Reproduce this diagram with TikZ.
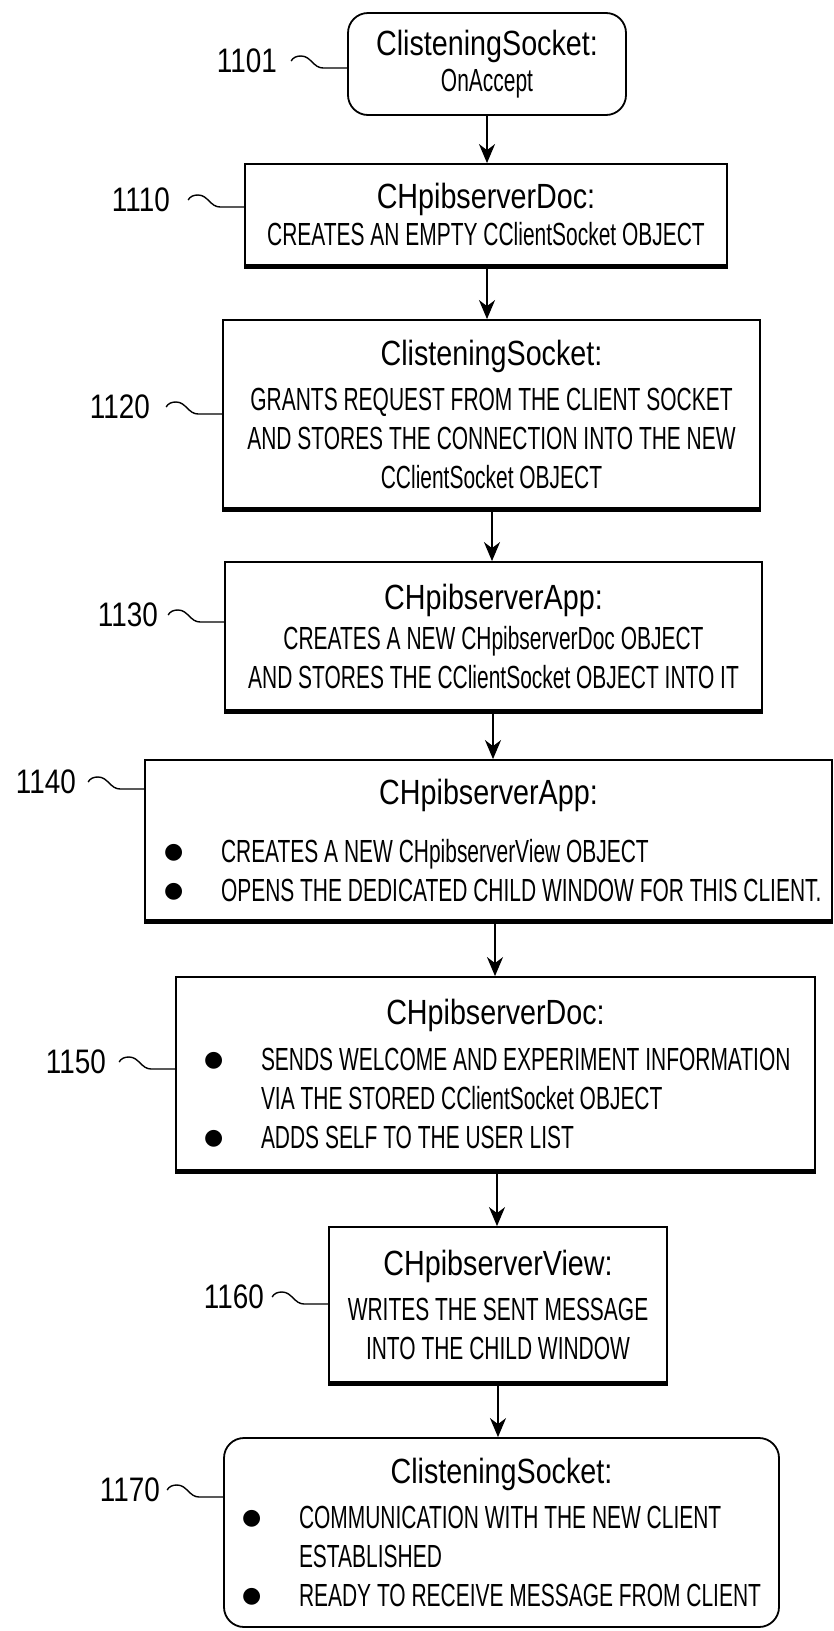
\documentclass[tikz,border=0pt]{standalone}
\usepackage{fontspec}
\setmainfont{Liberation Sans}[FakeStretch=0.655]
\newfontfamily\headfont{Liberation Sans}[FakeStretch=0.82]
\newfontfamily\dotfont{DejaVu Sans}
\usetikzlibrary{arrows.meta}

\newcommand\bodyfs{\fontsize{32}{39}\selectfont}
\newcommand\headfs{\headfont\fontsize{35}{39}\selectfont}
\newcommand\bitem[1]{\mbox{\makebox[57pt][l]{\raisebox{4pt}{\dotfont\fontsize{22}{22}\selectfont ●}}#1}}
\newcommand\bcont[1]{\mbox{\hspace*{57pt}#1}}

\tikzset{
  box/.style={draw, line width=1.8pt, inner sep=0pt, align=center, font=\bodyfs},
  rbox/.style={box, rounded corners=20pt},
  lbl/.style={anchor=east, inner sep=0pt, font=\headfont\fontsize{34}{34}\selectfont},
  lead/.style={line width=1.4pt},
  arr/.style={line width=1.8pt, -{Stealth[length=19pt,width=16pt,inset=6pt]}}
}

\begin{document}
\begin{tikzpicture}[x=1pt,y=-1pt]
  \useasboundingbox (0,0) rectangle (834,1631);

  % steps
  \node[rbox, minimum width=278, minimum height=102] (b1101) at (487,64)
    {{\headfs ClisteningSocket:}\\[-3pt] OnAccept};
  \node[box, minimum width=482, minimum height=101] (b1110) at (486,214.5)
    {{\headfs CHpibserverDoc:}\\[-2pt] CREATES AN EMPTY CClientSocket OBJECT};
  \node[box, minimum width=537, minimum height=188] (b1120) at (491.5,414)
    {{\headfs ClisteningSocket:}\\[6pt] GRANTS REQUEST FROM THE CLIENT SOCKET\\
     AND STORES THE CONNECTION INTO THE NEW\\ CClientSocket OBJECT};
  \node[box, minimum width=537, minimum height=148] (b1130) at (493.5,636)
    {{\headfs CHpibserverApp:}\\[1pt] CREATES A NEW CHpibserverDoc OBJECT\\
     AND STORES THE CClientSocket OBJECT INTO IT};
  \node[box, minimum width=687, minimum height=160] (b1140) at (488.5,840)
    {\parbox{649pt}{\makebox[\linewidth]{\headfs CHpibserverApp:}\\[19pt]
     \bitem{CREATES A NEW CHpibserverView OBJECT}\\
     \bitem{OPENS THE DEDICATED CHILD WINDOW FOR THIS CLIENT.}}};
  \node[box, minimum width=639, minimum height=193] (b1150) at (495.5,1073.5)
    {\parbox{583pt}{\makebox[\linewidth]{\headfs CHpibserverDoc:}\\[7pt]
     \bitem{SENDS WELCOME AND EXPERIMENT INFORMATION}\\
     \bcont{VIA THE STORED CClientSocket OBJECT}\\
     \bitem{ADDS SELF TO THE USER LIST}}};
  \node[box, minimum width=338, minimum height=155] (b1160) at (498,1304.5)
    {{\headfs CHpibserverView:}\\[6pt] WRITES THE SENT MESSAGE\\ INTO THE CHILD WINDOW};
  \node[rbox, minimum width=555, minimum height=189] (b1170) at (501.5,1532.5)
    {\parbox{519pt}{\makebox[\linewidth]{\headfs ClisteningSocket:}\\[6pt]
     \bitem{COMMUNICATION WITH THE NEW CLIENT}\\
     \bcont{ESTABLISHED}\\
     \bitem{READY TO RECEIVE MESSAGE FROM CLIENT}}};

  % heavy lower edges
  \foreach \b in {b1110,b1120,b1130,b1140,b1150,b1160}
    \draw[line width=3.5pt] ([yshift=-1pt]\b.south west) -- ([yshift=-1pt]\b.south east);

  % reference numerals
  \node[lbl] (l1101) at (277,61) {1101};
  \node[lbl] (l1110) at (170,200) {1110};
  \node[lbl] (l1120) at (150,407) {1120};
  \node[lbl] (l1130) at (158,615) {1130};
  \node[lbl] (l1140) at (76,782) {1140};
  \node[lbl] (l1150) at (106,1062) {1150};
  \node[lbl] (l1160) at (264,1297) {1160};
  \node[lbl] (l1170) at (160,1490) {1170};

  \foreach \l/\b in {l1101/b1101,l1110/b1110,l1120/b1120,l1130/b1130,
                     l1140/b1140,l1150/b1150,l1160/b1160,l1170/b1170}
    \draw[lead] (\b.west |- \l.east) ++(0,7) -- ++(-24,0)
      to[out=180,in=0] ++(-22,-12) to[out=180,in=60] ++(-10,5);

  % flow
  \foreach \from/\to/\x in {b1101/b1110/487,b1110/b1120/487,b1120/b1130/492,
                            b1130/b1140/493,b1140/b1150/495,b1150/b1160/497,b1160/b1170/498}
    \draw[arr] (\from.south -| \x,0) -- (\to.north -| \x,0);
\end{tikzpicture}
\end{document}
